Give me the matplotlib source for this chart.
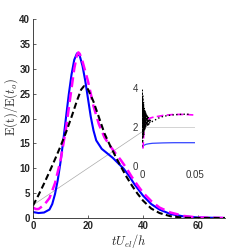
import numpy as np
import matplotlib.pyplot as plt

plt.rcParams.update({
    'font.family': 'Liberation Sans',
    'mathtext.fontset': 'cm',
})

# main curves
t_blue = [0, 2, 4, 6, 7, 8, 9, 10, 11, 12, 13, 14, 15, 16, 17, 18, 19, 20, 21, 22, 23, 25, 27,
          29, 31, 33, 35, 37, 40, 43, 46, 50, 55, 60, 70]
e_blue = [1.2, 1.0, 1.1, 1.7, 2.8, 4.8, 7.6, 11.2, 15.5, 20.2, 24.8, 28.8, 31.8, 33.1, 32.6, 30.6,
          27.6, 24.0, 20.4, 17.6, 15.6, 13.9, 13.0, 12.1, 11.0, 9.9, 8.4, 6.7, 4.5, 2.8, 1.7, 0.8,
          0.3, 0.1, 0.0]

t_mag = [0, 1, 2, 4, 6, 8, 10, 12, 14, 15, 16, 16.5, 17, 18, 20, 22, 24, 26, 28, 30, 32, 34, 36,
         38, 40, 43, 46, 50, 55, 60, 70]
e_mag = [2.1, 1.8, 1.8, 2.6, 4.0, 7.0, 11.5, 18.0, 26.0, 30.0, 32.8, 33.3, 33.0, 31.5, 27.5, 22.5,
         18.8, 16.2, 14.5, 13.0, 11.6, 10.0, 8.2, 6.6, 5.1, 3.4, 2.1, 1.1, 0.4, 0.1, 0.0]

t_blk = [0, 2, 4, 6, 8, 10, 12, 14, 16, 17.5, 18.5, 20, 22, 24, 26, 28, 30, 32, 34, 36, 38, 40,
         43, 46, 50, 55, 60, 70]
e_blk = [2.5, 4.6, 6.9, 9.3, 11.8, 14.4, 17.2, 20.3, 23.6, 25.8, 26.5, 25.9, 23.4, 20.2, 17.0,
         14.6, 12.4, 10.3, 8.3, 6.5, 4.9, 3.5, 1.9, 1.0, 0.35, 0.05, 0.0, 0.0]

# inset curves
x_blue_in = [0, 0.001, 0.002, 0.004, 0.007, 0.01, 0.015, 0.02, 0.03, 0.04, 0.05]
y_blue_in = [0.95, 1.02, 1.07, 1.12, 1.15, 1.17, 1.18, 1.19, 1.2, 1.2, 1.2]

x_mag_in = [0.001, 0.0015, 0.002, 0.003, 0.004, 0.005, 0.007, 0.01, 0.015, 0.02, 0.03, 0.04, 0.05]
y_mag_in = [0.9, 1.4, 1.9, 2.2, 2.35, 2.4, 2.45, 2.5, 2.55, 2.6, 2.65, 2.65, 2.62]

x_blk_in = [0, 0.0003, 0.0006, 0.0009, 0.0012, 0.0015, 0.0018, 0.0021, 0.0024, 0.0027, 0.003,
            0.0034, 0.0038, 0.0042, 0.0046, 0.005, 0.0055, 0.006, 0.0065, 0.007, 0.0075, 0.008,
            0.009, 0.01, 0.012, 0.015, 0.02, 0.025, 0.03, 0.035, 0.04, 0.045]
y_blk_in = [1.0, 3.9, 1.2, 3.6, 1.5, 3.3, 1.6, 3.0, 1.8, 2.9, 1.9, 2.8, 2.0, 2.7, 2.1, 2.6, 2.1,
            2.5, 2.15, 2.4, 2.2, 2.35, 2.25, 2.3, 2.35, 2.45, 2.55, 2.6, 2.63, 2.65, 2.66, 2.66]

fig = plt.figure(figsize=(2.49, 2.49), dpi=100)
ax = fig.add_axes([0.1325, 0.1245, 0.773, 0.799])

ax.plot(t_blue, e_blue, color='#0000ff', lw=1.5)
ax.plot(t_mag, e_mag, color='#ff00ff', lw=1.8, ls=(0, (4, 2)))
ax.plot(t_blk, e_blk, color='k', lw=1.5, ls=(0, (3, 1.6)))
# connector to inset
ax.plot([0, 39.6], [2.6, 17.3], color='#aaaaaa', lw=0.5, zorder=0)

ax.set_xlim(0, 70)
ax.set_ylim(0, 40)
ax.set_xticks([0, 20, 40, 60])
ax.set_yticks(np.arange(0, 41, 5))
for s in ['top', 'right']:
    ax.spines[s].set_visible(False)
for s in ['left', 'bottom']:
    ax.spines[s].set_linewidth(0.6)
    ax.spines[s].set_color('#262626')
ax.tick_params(direction='in', length=2.5, width=0.5, pad=2, labelsize=7,
               colors='#262626')
for lab in ax.get_xticklabels() + ax.get_yticklabels():
    lab.set_fontweight('bold')
ax.set_xlabel(r'$tU_{el}/h$', fontsize=9, color='#262626', labelpad=1)
ax.set_ylabel(r'$\mathrm{E(t)/E(}t_o\mathrm{)}$', fontsize=9, color='#262626')
ax.yaxis.set_label_coords(-0.068, 0.56)

# inset
axi = fig.add_axes([0.570, 0.333, 0.213, 0.313])
axi.plot([0, 0.05], [2, 2], color='#cccccc', lw=0.6)
axi.plot(x_blue_in, y_blue_in, color='#3344ff', lw=0.9)
axi.plot(x_mag_in, y_mag_in, color='#ff00ff', lw=1.2, ls=(0, (4, 2)))
axi.plot(x_blk_in, y_blk_in, color='k', lw=1.0, ls=':')
axi.set_xlim(0, 0.05)
axi.set_ylim(0, 4)
axi.set_xticks([0, 0.05])
axi.set_xticklabels(['0', '0.05'])
axi.set_yticks([0, 2, 4])
axi.patch.set_alpha(0)
for s in axi.spines.values():
    s.set_visible(False)
axi.tick_params(length=0, pad=3, labelsize=7, colors='#333333')

fig.savefig('out.png', dpi=100)
